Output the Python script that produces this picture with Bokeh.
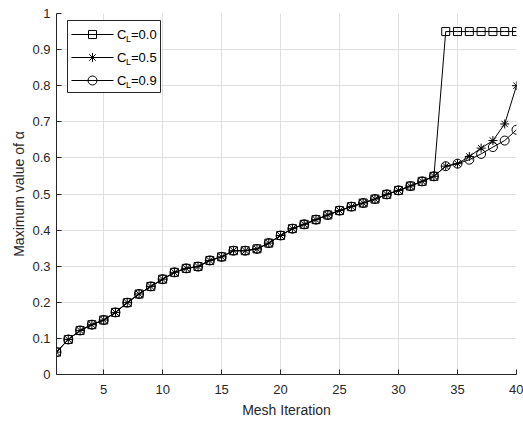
from bokeh.plotting import figure
from bokeh.models import Range1d, FixedTicker, Label
from bokeh.embed import file_html
from bokeh.resources import INLINE

# ---- data ----
iterations = list(range(1, 41))
cl_00 = [0.062, 0.097, 0.122, 0.138, 0.151, 0.172, 0.199, 0.223, 0.244, 0.264,
         0.283, 0.294, 0.299, 0.316, 0.326, 0.343, 0.343, 0.348, 0.364, 0.385,
         0.404, 0.416, 0.429, 0.442, 0.454, 0.465, 0.475, 0.486, 0.499, 0.510,
         0.522, 0.535, 0.549, 0.950, 0.950, 0.950, 0.950, 0.950, 0.950, 0.950]
cl_05 = [0.062, 0.097, 0.122, 0.138, 0.151, 0.172, 0.199, 0.223, 0.244, 0.264,
         0.283, 0.294, 0.299, 0.316, 0.326, 0.343, 0.343, 0.348, 0.364, 0.385,
         0.404, 0.416, 0.429, 0.442, 0.454, 0.465, 0.475, 0.486, 0.499, 0.510,
         0.522, 0.535, 0.549, 0.577, 0.584, 0.604, 0.627, 0.648, 0.694, 0.800]
cl_09 = [0.062, 0.097, 0.122, 0.138, 0.151, 0.172, 0.199, 0.223, 0.244, 0.264,
         0.283, 0.294, 0.299, 0.316, 0.326, 0.343, 0.343, 0.348, 0.364, 0.385,
         0.404, 0.416, 0.429, 0.442, 0.454, 0.465, 0.475, 0.486, 0.499, 0.510,
         0.522, 0.535, 0.549, 0.577, 0.584, 0.595, 0.611, 0.630, 0.648, 0.678]
x_ticks = [5, 10, 15, 20, 25, 30, 35, 40]
y_ticks = [0, 0.1, 0.2, 0.3, 0.4, 0.5, 0.6, 0.7, 0.8, 0.9, 1]
legend_values = ["=0.0", "=0.5", "=0.9"]

FONT = "Liberation Sans"
DARK = "#262626"
X0, X1, Y0, Y1 = 1, 40, 0, 1

W, H = 523, 425
BL, BR, BT, BB = 56, 7, 13, 51

p = figure(width=W, height=H, x_range=Range1d(X0, X1), y_range=Range1d(Y0, Y1),
           output_backend="svg", toolbar_location=None,
           min_border_left=BL, min_border_right=BR, min_border_top=BT, min_border_bottom=BB)
p.outline_line_color = None
p.background_fill_color = "white"
p.border_fill_color = "white"

for ax in (p.xaxis[0], p.yaxis[0]):
    ax.axis_line_color = DARK
    ax.major_tick_line_color = DARK
    ax.major_tick_in = 5
    ax.major_tick_out = 0
    ax.minor_tick_line_color = None
    ax.major_label_text_font = FONT
    ax.major_label_text_font_size = "13px"
    ax.major_label_text_color = DARK
    ax.axis_label_text_font = FONT
    ax.axis_label_text_font_size = "14px"
    ax.axis_label_text_font_style = "normal"
    ax.axis_label_text_color = DARK

p.xaxis.ticker = FixedTicker(ticks=x_ticks)
p.yaxis.ticker = FixedTicker(ticks=y_ticks)
p.yaxis.major_label_overrides = {0: "0", 1: "1"}
p.xaxis.axis_label = "Mesh Iteration"
p.yaxis.axis_label = "Maximum value of α"
p.xaxis.major_label_standoff = 10
p.yaxis.major_label_standoff = 6
p.xaxis.axis_label_standoff = 5
p.yaxis.axis_label_standoff = 2

p.xgrid.grid_line_color = "#dfdfdf"
p.ygrid.grid_line_color = "#dfdfdf"

# ---- series ----
p.line(iterations, cl_00, line_color="black", line_width=1)
p.scatter(iterations, cl_00, marker="square", size=8, line_color="black", fill_alpha=0, line_width=1)
p.line(iterations, cl_05, line_color="black", line_width=1)
p.scatter(iterations, cl_05, marker="asterisk", size=9, line_color="black", line_width=1)
p.line(iterations, cl_09, line_color="black", line_width=1)
p.scatter(iterations, cl_09, marker="circle", size=9, line_color="black", fill_alpha=0, line_width=1)

# ---- manual legend (pixel layout converted to data space) ----
FL, FR, FT, FB = BL, W - BR, BT, H - BB
def dx(px):
    return X0 + (px - FL) * (X1 - X0) / (FR - FL)
def dy(py):
    return Y0 + (FB - py) * (Y1 - Y0) / (FB - FT)

p.quad(left=[dx(67)], right=[dx(160)], top=[dy(20)], bottom=[dy(92)],
       fill_color="white", line_color=DARK, line_width=1)
markers = [("square", 8), ("asterisk", 9), ("circle", 9)]
for i, (lab, (mk, sz)) in enumerate(zip(legend_values, markers)):
    yy = 34 + 23 * i
    p.line([dx(71), dx(113)], [dy(yy), dy(yy)], line_color="black", line_width=1)
    p.scatter([dx(92)], [dy(yy)], marker=mk, size=sz, line_color="black", fill_alpha=0, line_width=1)
    p.add_layout(Label(x=dx(116.5), y=dy(yy), text="C", text_font=FONT, text_font_size="13px",
                       text_color="black", text_baseline="middle", text_align="left"))
    p.add_layout(Label(x=dx(125.5), y=dy(yy + 4), text="L", text_font=FONT, text_font_size="9px",
                       text_color="black", text_baseline="middle", text_align="left"))
    p.add_layout(Label(x=dx(130.5), y=dy(yy), text=lab, text_font=FONT, text_font_size="13px",
                       text_color="black", text_baseline="middle", text_align="left"))

open("out.html", "w").write(file_html(p, INLINE))
